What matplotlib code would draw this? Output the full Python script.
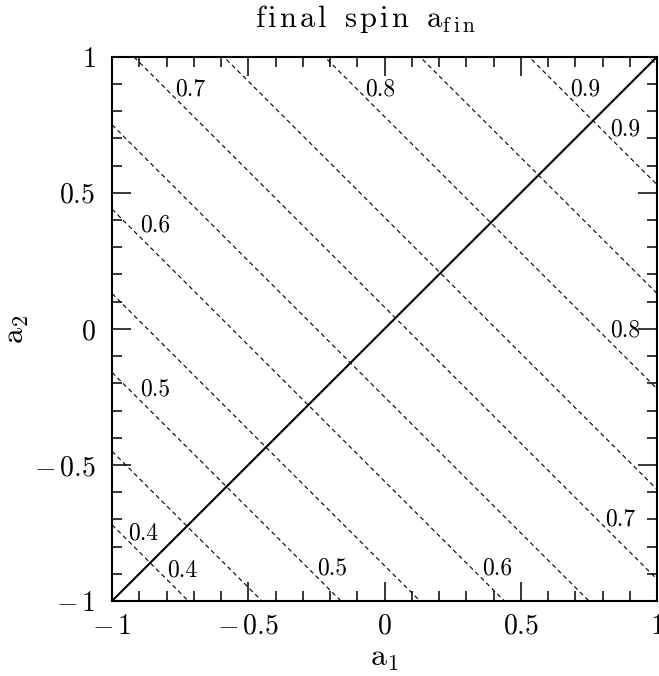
import numpy as np
import matplotlib
matplotlib.use("Agg")
import matplotlib.pyplot as plt
from matplotlib.ticker import MultipleLocator

plt.rcParams['font.family'] = 'serif'
plt.rcParams['font.serif'] = ['cmr10']
plt.rcParams['mathtext.fontset'] = 'cm'
plt.rcParams['axes.formatter.use_mathtext'] = True

# contour levels of the final spin and the a1+a2 value where each is reached
levels = [0.4, 0.45, 0.5, 0.55, 0.6, 0.65, 0.7, 0.75, 0.8, 0.85, 0.9, 0.95]
sum_at_level = [-1.72, -1.45, -1.16, -0.87, -0.56, -0.25, 0.08, 0.41, 0.78, 1.13, 1.53, 1.97]

# labels: text, a1, a2
label_text = ['0.7', '0.8', '0.9', '0.9', '0.8', '0.7', '0.6', '0.5', '0.4', '0.4', '0.5', '0.6']
label_a1 = [-0.714, -0.017, 0.736, 0.883, 0.883, 0.864, -0.842, -0.842, -0.886, -0.743, -0.193, 0.413]
label_a2 = [0.879, 0.879, 0.879, 0.732, -0.004, -0.702, 0.379, -0.224, -0.75, -0.886, -0.879, -0.879]

tick_vals = [-1, -0.5, 0, 0.5, 1]
tick_text = [r'$-\,1$', r'$-\,0.5$', r'$0$', r'$0.5$', r'$1$']

fig = plt.figure(figsize=(6.59, 6.76), dpi=100)
ax = fig.add_axes([0.170, 0.111, 0.827, 0.805])

a1 = np.linspace(-1, 1, 201)
for c in sum_at_level:
    ax.plot(a1, c - a1, color='black', lw=0.8, ls=(0, (4, 3)))

# equal spin line
ax.plot([-1, 1], [-1, 1], color='black', lw=1.5)

for t, x, y in zip(label_text, label_a1, label_a2):
    ax.text(x, y, t, fontsize=17, ha='center', va='center')

ax.set_xlim(-1, 1)
ax.set_ylim(-1, 1)
ax.set_xticks(tick_vals)
ax.set_xticklabels(tick_text)
ax.set_yticks(tick_vals)
ax.set_yticklabels(tick_text)
ax.xaxis.set_minor_locator(MultipleLocator(0.1))
ax.yaxis.set_minor_locator(MultipleLocator(0.1))
ax.tick_params(which='both', direction='in', top=True, right=True, labelsize=20, width=1.1)
ax.tick_params(which='major', length=14)
ax.tick_params(which='minor', length=7)
ax.tick_params(axis='x', which='major', pad=9)
ax.tick_params(axis='y', which='major', pad=12)
for s in ax.spines.values():
    s.set_linewidth(1.5)

ax.set_xlabel(r'$\mathrm{a_1}$', fontsize=23, labelpad=4)
ax.set_ylabel(r'$\mathrm{a_2}$', fontsize=23, labelpad=2)

sp = r'\hspace{0.12}'
title = (r'$\mathrm{' + sp.join('final') + r'\ \ ' + sp.join('spin')
         + r'\ \ a_{' + r'\hspace{0.2}'.join('fin') + r'}}$')
fig.text(366 / 659, 1 - 27 / 676, title, fontsize=22, ha='center', va='baseline')

fig.savefig('out.png', dpi=100)
